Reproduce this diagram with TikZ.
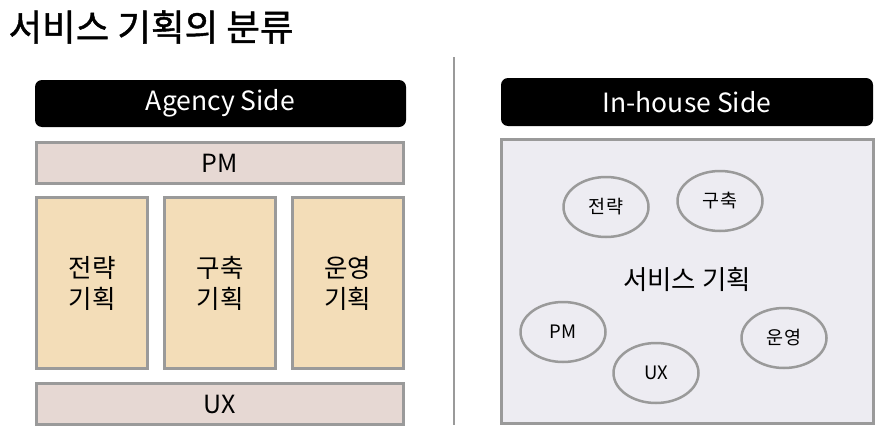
\documentclass[tikz,border=0pt]{standalone}
\usepackage{fontspec}
\setmainfont{Noto Sans CJK KR}
\newfontfamily\titlefont{Noto Sans CJK KR}[FakeBold=1.2]
\usepackage{xcolor}
\definecolor{frameGray}{RGB}{154, 154, 154}
\definecolor{roleRose}{RGB}{230, 216, 211}
\definecolor{roleSand}{RGB}{243, 221, 184}
\definecolor{houseLilac}{RGB}{237, 236, 242}
\usetikzlibrary{shapes.geometric}

\begin{document}
\begin{tikzpicture}[x=1pt, y=-1pt,
    header/.style={rectangle, rounded corners=7pt, fill=black, text=white,
        minimum width=371pt, minimum height=47pt, inner sep=0pt,
        font=\fontsize{26.5}{30}\selectfont},
    band/.style={rectangle, draw=frameGray, line width=3pt, fill=roleRose,
        minimum width=367pt, minimum height=41pt, inner sep=0pt,
        font=\fontsize{25}{30}\selectfont},
    column/.style={rectangle, draw=frameGray, line width=3pt, fill=roleSand,
        minimum width=111pt, minimum height=171pt, inner sep=0pt, align=center,
        font=\fontsize{25.5}{31}\selectfont},
    role/.style={ellipse, draw=frameGray, line width=2.5pt,
        minimum width=85pt, minimum height=60pt, inner sep=0pt,
        font=\fontsize{18.5}{21}\selectfont}]
    \useasboundingbox[fill=white] (0,0) rectangle (882,436);
    \node[anchor=west, font=\titlefont\fontsize{36.5}{40}\selectfont] (title) at (5,27) {서비스 기획의 분류};
    % agency side
    \node[header] (agency) at (220.5,103.5) {Agency Side};
    \node[band] (pm) at (220,163) {PM};
    \node[column] (strategy) at (92,283) {전략\\기획};
    \node[column] (build) at (220,283) {구축\\기획};
    \node[column] (operate) at (347.5,283) {운영\\기획};
    \node[band] (ux) at (220,404) {UX};
    \draw[frameGray, line width=2.5pt] (454,57) -- (454,425);
    % in-house side
    \node[header, minimum width=372pt, minimum height=48pt] (inhouse) at (687,102) {In-house Side};
    \node[rectangle, draw=frameGray, line width=3pt, fill=houseLilac,
        minimum width=372pt, minimum height=284pt] (house) at (687.5,281.5) {};
    \node[font=\fontsize{26.5}{30}\selectfont] (service) at (687,280) {서비스 기획};
    \node[role] (hStrategy) at (606,207) {전략};
    \node[role] (hBuild) at (720,201) {구축};
    \node[role] (hPM) at (563,332) {PM};
    \node[role] (hUX) at (656,373) {UX};
    \node[role] (hOperate) at (784,338) {운영};
\end{tikzpicture}
\end{document}
